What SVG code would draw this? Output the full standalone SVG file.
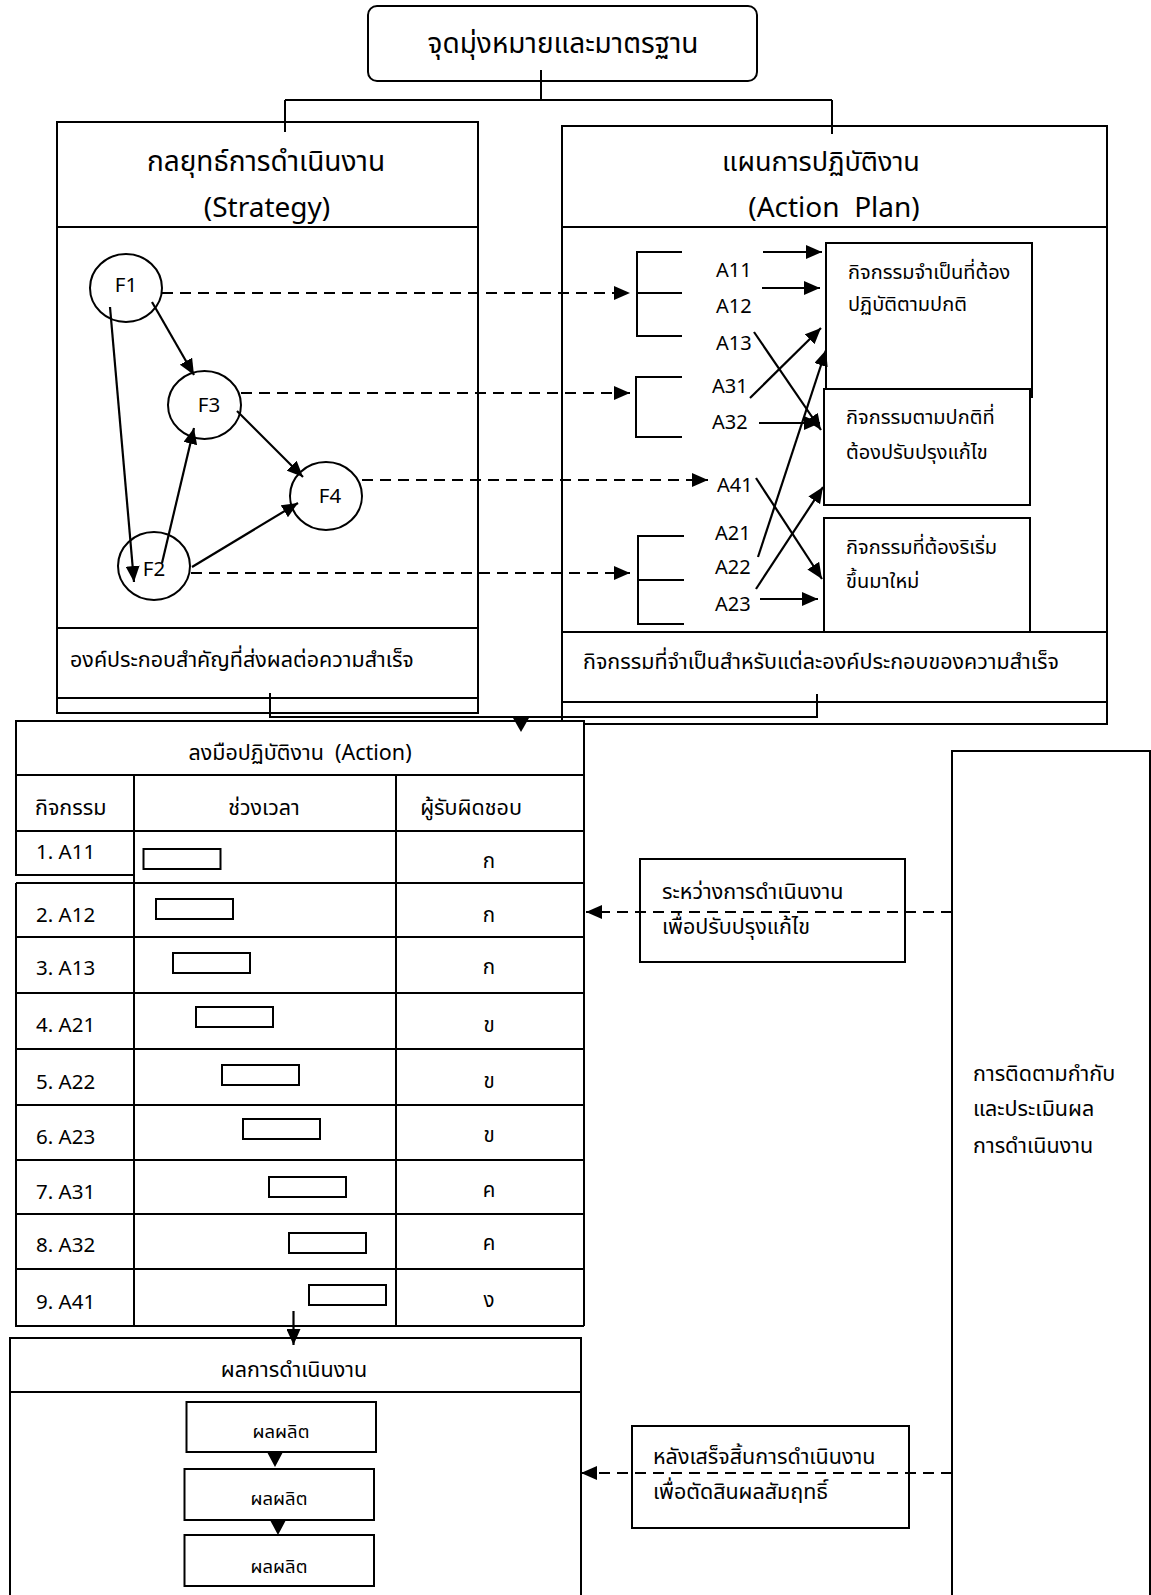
<svg xmlns="http://www.w3.org/2000/svg" width="1151" height="1595" viewBox="0 0 1151 1595">
<defs>
<style>
text{font-family:'Noto Sans Thai','Noto Sans Thai UI','Noto Sans','DejaVu Sans',sans-serif;fill:#000}
.t29{font-size:29px}
.t28{font-size:28px}
.t27{font-size:27px}
.tb{font-size:21.5px}
.tl{font-size:20.5px}
.tx{font-size:20px}
.tp{font-size:18.5px}
.mid{text-anchor:middle}
.box{fill:#fff;stroke:#000;stroke-width:2}
.ln{fill:none;stroke:#000;stroke-width:2}
.arw{fill:none;stroke:#000;stroke-width:2.2;marker-end:url(#ah)}
.dsh{fill:none;stroke:#000;stroke-width:2;stroke-dasharray:11 7;marker-end:url(#ah)}
.tri{fill:#000}
</style>
<marker id="ah" viewBox="0 0 16 14" refX="16" refY="7" markerWidth="16" markerHeight="14" markerUnits="userSpaceOnUse" orient="auto">
<path d="M0,0 L16,7 L0,14 z" fill="#000"/>
</marker>
</defs>
<rect width="1151" height="1595" fill="#fff"/>

<g id="goal">
<rect class="box" x="368" y="6" width="389" height="75" rx="9"/>
<text class="t28 mid" x="563" y="53">จุดมุ่งหมายและมาตรฐาน</text>
</g>

<g id="strategy">
<rect class="box" x="57" y="122" width="421" height="591"/>
<line class="ln" x1="57" y1="227" x2="478" y2="227"/>
<line class="ln" x1="57" y1="628" x2="478" y2="628"/>
<line class="ln" x1="57" y1="698" x2="478" y2="698"/>
<text class="t28 mid" x="266" y="171">กลยุทธ์การดำเนินงาน</text>
<text class="t28 mid" x="267" y="217">(Strategy)</text>
<text class="tb" x="70" y="667">องค์ประกอบสำคัญที่ส่งผลต่อความสำเร็จ</text>
</g>

<g id="actionplan">
<rect class="box" x="562" y="126" width="545" height="598"/>
<line class="ln" x1="562" y1="227" x2="1107" y2="227"/>
<line class="ln" x1="562" y1="702" x2="1107" y2="702"/>
<text class="t27 mid" x="821" y="171">แผนการปฏิบัติงาน</text>
<text class="t28 mid" x="834" y="217" xml:space="preserve">(Action  Plan)</text>
</g>

<g id="ap-box1">
<rect class="box" x="826" y="243" width="206" height="154"/>
<text class="tx" x="848" y="279">กิจกรรมจำเป็นที่ต้อง</text>
<text class="tx" x="848" y="311">ปฏิบัติตามปกติ</text>
</g>
<g id="ap-box2">
<rect class="box" x="824" y="389" width="206" height="116"/>
<text class="tx" x="846" y="424">กิจกรรมตามปกติที่</text>
<text class="tx" x="846" y="459">ต้องปรับปรุงแก้ไข</text>
</g>
<g id="ap-box3">
<rect class="box" x="824" y="518" width="206" height="114"/>
<text class="tx" x="846" y="554">กิจกรรมที่ต้องริเริ่ม</text>
<text class="tx" x="846" y="588">ขึ้นมาใหม่</text>
</g>
<g id="ap-footer">
<line class="ln" x1="562" y1="632" x2="1107" y2="632"/>
<text class="tb" x="583" y="669">กิจกรรมที่จำเป็นสำหรับแต่ละองค์ประกอบของความสำเร็จ</text>
</g>

<g id="brackets">
<path class="ln" d="M682,252 H637 V336 H682 M637,293 H682"/>
<path class="ln" d="M682,377 H636 V437 H682"/>
<path class="ln" d="M684,536 H638 V624 H684 M638,580 H684"/>
</g>

<g id="a-labels">
<text class="tx" x="716" y="277">A11</text>
<text class="tx" x="716" y="313">A12</text>
<text class="tx" x="716" y="350">A13</text>
<text class="tx" x="712" y="393">A31</text>
<text class="tx" x="712" y="429">A32</text>
<text class="tx" x="717" y="492">A41</text>
<text class="tx" x="715" y="540">A21</text>
<text class="tx" x="715" y="574">A22</text>
<text class="tx" x="715" y="611">A23</text>
</g>

<g id="f1"><ellipse class="box" cx="126" cy="288" rx="36" ry="34"/><text class="tl mid" x="126" y="292">F1</text></g>
<g id="f3"><ellipse class="box" cx="204.5" cy="405" rx="36.5" ry="34"/><text class="tl mid" x="209" y="412">F3</text></g>
<g id="f4"><ellipse class="box" cx="326" cy="496" rx="36" ry="34"/><text class="tl mid" x="330" y="503">F4</text></g>
<g id="f2"><ellipse class="box" cx="154" cy="566" rx="36" ry="34"/><text class="tl mid" x="154" y="576">F2</text></g>

<g id="table">
<rect x="16" y="721" width="568" height="605" fill="#fff"/>
<rect class="box" x="16" y="721" width="568" height="54"/>
<path class="ln" d="M16,775 V875 H134 M16,831 H584 M134,775 V1326 M396,775 V1326 M584,775 V1326 M16,883 V1326 H584 M16,883 H584 M16,937 H584 M16,993 H584 M16,1049 H584 M16,1105 H584 M16,1160 H584 M16,1214 H584 M16,1269 H584"/>
<text class="tb mid" x="300" y="760" xml:space="preserve">ลงมือปฏิบัติงาน  (Action)</text>
<text class="tb" x="35" y="815">กิจกรรม</text>
<text class="tb mid" x="264" y="815">ช่วงเวลา</text>
<text class="tb mid" x="471" y="815">ผู้รับผิดชอบ</text>
<text class="tl" x="36" y="859">1. A11</text>
<text class="tl" x="36" y="922">2. A12</text>
<text class="tl" x="36" y="975">3. A13</text>
<text class="tl" x="36" y="1032">4. A21</text>
<text class="tl" x="36" y="1089">5. A22</text>
<text class="tl" x="36" y="1144">6. A23</text>
<text class="tl" x="36" y="1199">7. A31</text>
<text class="tl" x="36" y="1252">8. A32</text>
<text class="tl" x="36" y="1309">9. A41</text>
<text class="tl mid" x="489" y="868">ก</text>
<text class="tl mid" x="489" y="922">ก</text>
<text class="tl mid" x="489" y="974">ก</text>
<text class="tl mid" x="489" y="1032">ข</text>
<text class="tl mid" x="489" y="1088">ข</text>
<text class="tl mid" x="489" y="1142">ข</text>
<text class="tl mid" x="489" y="1197">ค</text>
<text class="tl mid" x="489" y="1250">ค</text>
<text class="tl mid" x="489" y="1307">ง</text>
<rect class="box" x="143.5" y="849" width="77" height="20"/>
<rect class="box" x="156" y="899" width="77" height="20"/>
<rect class="box" x="173" y="953" width="77" height="20"/>
<rect class="box" x="196" y="1007" width="77" height="20"/>
<rect class="box" x="222" y="1065" width="77" height="20"/>
<rect class="box" x="243" y="1119" width="77" height="20"/>
<rect class="box" x="269" y="1177" width="77" height="20"/>
<rect class="box" x="289" y="1233" width="77" height="20"/>
<rect class="box" x="309" y="1285" width="77" height="20"/>
</g>

<g id="results">
<rect class="box" x="10" y="1338" width="571" height="280"/>
<line class="ln" x1="10" y1="1392" x2="581" y2="1392"/>
<text class="tb mid" x="294" y="1377">ผลการดำเนินงาน</text>
</g>
<g id="out1"><rect class="box" x="186.5" y="1402" width="189.5" height="50"/><text class="tp mid" x="281" y="1438">ผลผลิต</text></g>
<g id="out2"><rect class="box" x="184.5" y="1469" width="189.5" height="51"/><text class="tp mid" x="279" y="1505">ผลผลิต</text></g>
<g id="out3"><rect class="box" x="184.5" y="1535" width="189.5" height="51"/><text class="tp mid" x="279" y="1573">ผลผลิต</text></g>

<g id="monitor">
<rect class="box" x="952" y="751" width="198" height="900"/>
<text class="tb" x="973" y="1081">การติดตามกำกับ</text>
<text class="tb" x="973" y="1116">และประเมินผล</text>
<text class="tb" x="973" y="1153">การดำเนินงาน</text>
</g>
<g id="during">
<rect class="box" x="640" y="859" width="265" height="103"/>
<text class="tb" x="662" y="899">ระหว่างการดำเนินงาน</text>
<text class="tb" x="662" y="934">เพื่อปรับปรุงแก้ไข</text>
</g>
<g id="after">
<rect class="box" x="632" y="1426" width="277" height="102"/>
<text class="tb" x="653" y="1464">หลังเสร็จสิ้นการดำเนินงาน</text>
<text class="tb" x="653" y="1499">เพื่อตัดสินผลสัมฤทธิ์</text>
</g>

<g id="connectors">
<path class="ln" d="M541,70 V100 M285,100 H832 M285,100 V132 M832,100 V134"/>
<line class="arw" x1="152" y1="302" x2="194" y2="375"/>
<line class="arw" x1="110" y1="307" x2="134" y2="582"/>
<line class="arw" x1="162" y1="563" x2="194" y2="428"/>
<line class="arw" x1="237" y1="411" x2="303" y2="477"/>
<line class="arw" x1="192" y1="567" x2="298" y2="503"/>
<line class="dsh" x1="162" y1="293" x2="630" y2="293"/>
<line class="dsh" x1="241" y1="393" x2="630" y2="393"/>
<line class="dsh" x1="362" y1="480" x2="708" y2="480"/>
<line class="dsh" x1="191" y1="573" x2="630" y2="573"/>
<line class="arw" x1="763" y1="252" x2="822" y2="252"/>
<line class="arw" x1="762" y1="288" x2="820" y2="288"/>
<line class="arw" x1="754" y1="332" x2="821" y2="430"/>
<line class="arw" x1="750" y1="398" x2="821" y2="328"/>
<line class="arw" x1="759" y1="423" x2="820" y2="423"/>
<line class="arw" x1="758" y1="557" x2="826" y2="350"/>
<line class="arw" x1="756" y1="478" x2="822" y2="579"/>
<line class="arw" x1="756" y1="589" x2="823" y2="487"/>
<line class="arw" x1="760" y1="599" x2="818" y2="599"/>
<path class="ln" d="M270,693 V717 H817 V694"/>
<polygon class="tri" points="513,718 529,718 521,732"/>
<line class="arw" x1="293.5" y1="1311" x2="293.5" y2="1345"/>
<polygon class="tri" points="267,1452 283,1452 275,1467"/>
<polygon class="tri" points="270,1520 286,1520 278,1535"/>
<line class="dsh" x1="952" y1="912" x2="586" y2="912"/>
<line class="dsh" x1="952" y1="1473" x2="581" y2="1473"/>
</g>
</svg>
